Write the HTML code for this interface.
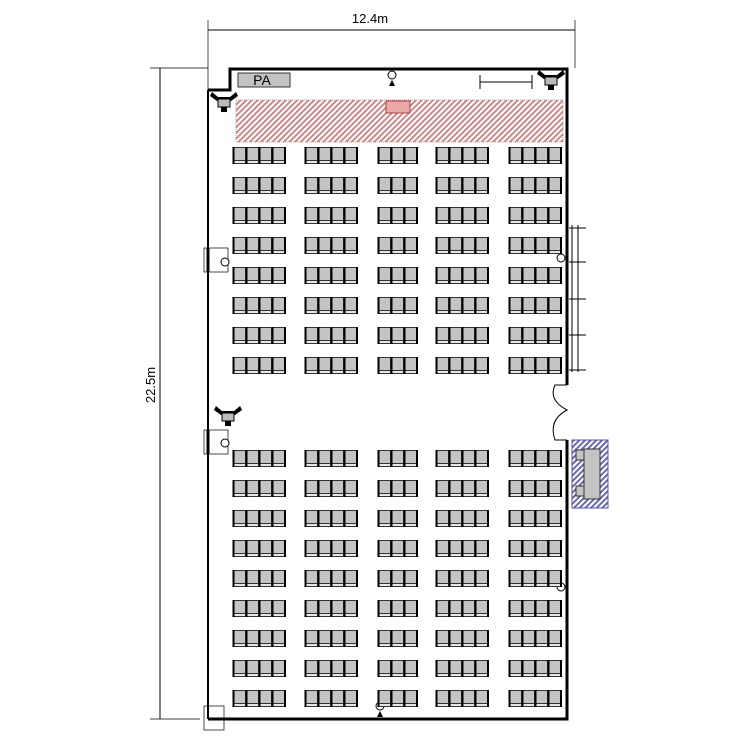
<!DOCTYPE html>
<html><head><meta charset="utf-8"><style>html,body{margin:0;padding:0;background:#fff}svg{display:block}</style></head>
<body>
<svg width="750" height="750" viewBox="0 0 750 750" xmlns="http://www.w3.org/2000/svg">
<defs>
<pattern id="hr" width="4" height="4" patternUnits="userSpaceOnUse" patternTransform="rotate(45)">
<rect width="4" height="4" fill="#fff"/><rect width="2" height="4" fill="#c98a8a"/></pattern>
<pattern id="hb" width="4" height="4" patternUnits="userSpaceOnUse" patternTransform="rotate(45)">
<rect width="4" height="4" fill="#fff"/><rect width="2" height="4" fill="#6a6ab0"/></pattern>
<g id="s"><rect x="0.5" y="0.5" width="12" height="13" fill="#c4c4c4" stroke="#333" stroke-width="1"/><rect x="0.5" y="13.5" width="12" height="3" fill="#e6e6e6" stroke="#333" stroke-width="1"/><line x1="0.5" y1="0" x2="0.5" y2="17" stroke="#000" stroke-width="2"/></g>
<g id="b4"><use href="#s" x="0"/><use href="#s" x="13"/><use href="#s" x="26"/><use href="#s" x="39"/><line x1="52" y1="0" x2="52" y2="17" stroke="#000" stroke-width="2"/></g>
<g id="b3"><use href="#s" x="0"/><use href="#s" x="13"/><use href="#s" x="26"/><line x1="39" y1="0" x2="39" y2="17" stroke="#000" stroke-width="2"/></g>
<g id="row"><use href="#b4" x="233"/><use href="#b4" x="305"/><use href="#b3" x="378"/><use href="#b4" x="436"/><use href="#b4" x="509"/></g>
<g id="spk"><path d="M-12,-7 L-6,-2 L6,-2 L12,-7 L14,-3 L7,2 L-7,2 L-14,-3Z" fill="#000"/><rect x="-6" y="0" width="12" height="8" fill="#bbb" stroke="#000"/><rect x="-3" y="8" width="6" height="5" fill="#000"/></g>
</defs>
<line x1="208" y1="30" x2="575" y2="30" stroke="#000"/>
<line x1="208" y1="20" x2="208" y2="68" stroke="#000" stroke-width="0.7"/>
<line x1="575" y1="20" x2="575" y2="68" stroke="#000" stroke-width="0.7"/>
<text x="370" y="23" font-family="Liberation Sans,sans-serif" font-size="13" text-anchor="middle">12.4m</text>
<line x1="160" y1="68" x2="160" y2="719" stroke="#000"/>
<line x1="150" y1="68" x2="208" y2="68" stroke="#000" stroke-width="0.7"/>
<line x1="150" y1="719" x2="200" y2="719" stroke="#000" stroke-width="0.7"/>
<text transform="translate(155,385) rotate(-90)" font-family="Liberation Sans,sans-serif" font-size="13" text-anchor="middle">22.5m</text>
<path d="M230,87 L230,69 L567,69 L567,385" fill="none" stroke="#000" stroke-width="3"/>
<path d="M567,440 L567,719 L208,719" fill="none" stroke="#000" stroke-width="3"/>
<path d="M208,90 L230,90 L230,87" fill="none" stroke="#000" stroke-width="3"/>
<line x1="208" y1="68" x2="208" y2="90" stroke="#000" stroke-width="0.7"/>
<line x1="208" y1="90" x2="208" y2="719" stroke="#000" stroke-width="2"/>
<rect x="204" y="706" width="20" height="24" fill="none" stroke="#000" stroke-width="0.7"/>
<rect x="204" y="248" width="24" height="24" fill="#fff" stroke="#000" stroke-width="0.7"/>
<rect x="204" y="430" width="24" height="24" fill="#fff" stroke="#000" stroke-width="0.7"/>
<line x1="208" y1="248" x2="208" y2="272" stroke="#000" stroke-width="3"/>
<line x1="208" y1="430" x2="208" y2="454" stroke="#000" stroke-width="3"/>
<path d="M567,385 L555,385 Q548,400 567,410 Q548,420 555,440 L567,440" fill="none" stroke="#000" stroke-width="1"/>
<g stroke="#000" stroke-width="1" fill="none">
<line x1="572" y1="225" x2="572" y2="372"/><line x1="578" y1="225" x2="578" y2="372"/>
<line x1="569" y1="228" x2="586" y2="228"/><line x1="569" y1="262" x2="586" y2="262"/><line x1="569" y1="299" x2="586" y2="299"/><line x1="569" y1="335" x2="586" y2="335"/><line x1="569" y1="370" x2="586" y2="370"/>
</g>
<rect x="572" y="440" width="36" height="68" fill="url(#hb)" stroke="#55a" stroke-width="1"/>
<rect x="584" y="449" width="16" height="50" fill="#c4c4c4" stroke="#333"/>
<rect x="576" y="450" width="8" height="10" fill="#c4c4c4" stroke="#333"/>
<rect x="576" y="486" width="8" height="10" fill="#c4c4c4" stroke="#333"/>
<rect x="238" y="73" width="52" height="14" fill="#c4c4c4" stroke="#333"/>
<text x="262" y="85" font-family="Liberation Sans,sans-serif" font-size="14" text-anchor="middle">PA</text>
<line x1="480" y1="82" x2="532" y2="82" stroke="#000"/><line x1="480" y1="75" x2="480" y2="89" stroke="#000"/><line x1="532" y1="75" x2="532" y2="89" stroke="#000"/>
<rect x="236" y="100" width="327" height="42" fill="url(#hr)" stroke="#a77" stroke-width="0.8" stroke-dasharray="1,1"/>
<rect x="386" y="101" width="24" height="12" fill="#e9a8a8" stroke="#a44"/>
<use href="#spk" x="224" y="99"/><use href="#spk" x="551" y="77"/><use href="#spk" x="228" y="413"/>
<g fill="#fff" stroke="#000">
<circle cx="392" cy="75" r="4"/><circle cx="225" cy="262" r="4"/><circle cx="225" cy="443" r="4"/><circle cx="561" cy="258" r="4"/><circle cx="561" cy="587" r="4"/><circle cx="380" cy="706" r="4"/>
</g>
<path d="M392,80 l-3,6 h6z M380,711 l-3,6 h6z" fill="#000"/>
<use href="#row" y="147"/><use href="#row" y="177"/><use href="#row" y="207"/><use href="#row" y="237"/><use href="#row" y="267"/><use href="#row" y="297"/><use href="#row" y="327"/><use href="#row" y="357"/>
<use href="#row" y="450"/><use href="#row" y="480"/><use href="#row" y="510"/><use href="#row" y="540"/><use href="#row" y="570"/><use href="#row" y="600"/><use href="#row" y="630"/><use href="#row" y="660"/><use href="#row" y="690"/>
</svg>
</body></html>
